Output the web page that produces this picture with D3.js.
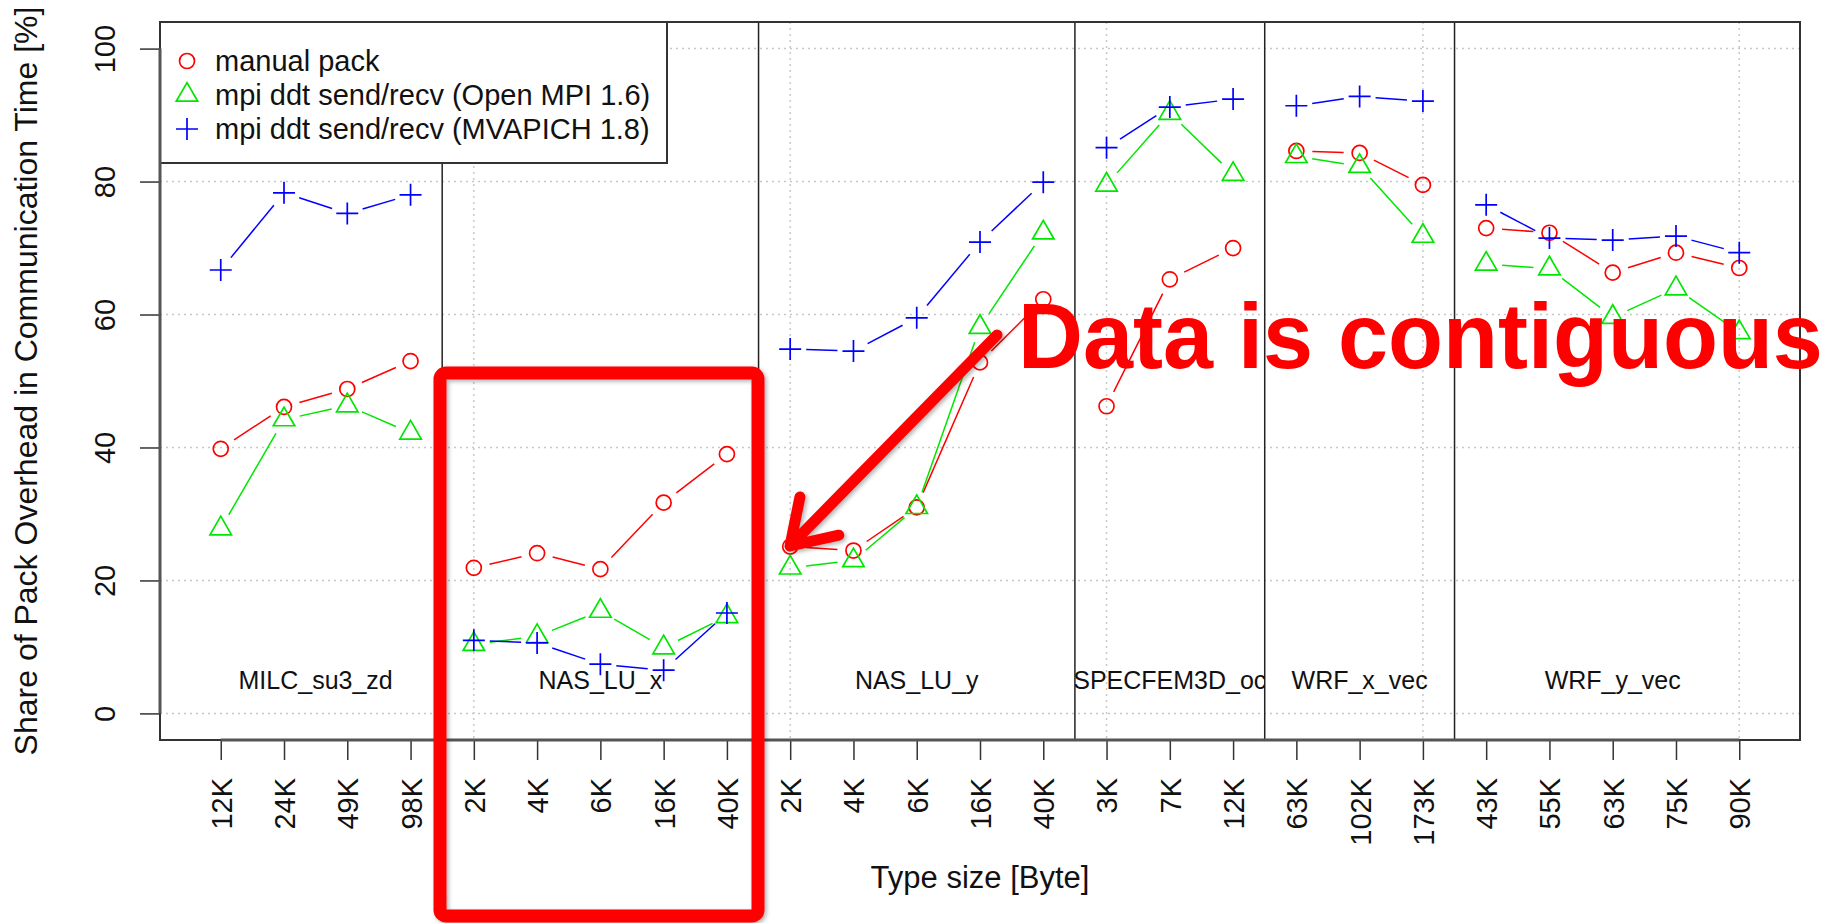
<!DOCTYPE html>
<html>
<head>
<meta charset="utf-8">
<script src="https://cdn.jsdelivr.net/npm/d3@7"></script>
<style>
  body { margin: 0; background: #fff; }
  text { font-family: "Liberation Sans", Arial, Helvetica, sans-serif; }
</style>
</head>
<body>
<script>
// x categories (type sizes), grouped by benchmark
const categories = ["12K", "24K", "49K", "98K",
  "2K", "4K", "6K", "16K", "40K",
  "2K", "4K", "6K", "16K", "40K",
  "3K", "7K", "12K",
  "63K", "102K", "173K",
  "43K", "55K", "63K", "75K", "90K"];
const groupNames = ["MILC_su3_zd", "NAS_LU_x", "NAS_LU_y", "SPECFEM3D_oc", "WRF_x_vec", "WRF_y_vec"];
const groupSizes = [4, 5, 5, 3, 3, 5];

// share of pack overhead [%]
const manualPack = [39.8, 46.1, 48.8, 53.0,
  21.9, 24.1, 21.7, 31.7, 39.0,
  25.1, 24.5, 31.0, 52.8, 62.3,
  46.2, 65.3, 70.0,
  84.6, 84.3, 79.5,
  73.0, 72.3, 66.3, 69.3, 67.0];
const openMpi16 = [27.8, 44.2, 46.3, 42.2,
  10.4, 11.6, 15.4, 9.9, 14.6,
  21.9, 23.0, 31.0, 58.1, 72.3,
  79.5, 90.3, 81.1,
  83.8, 82.3, 71.8,
  67.6, 66.9, 59.6, 63.9, 57.3];
const mvapich18 = [66.7, 78.3, 75.2, 78.0,
  11.0, 10.6, 7.4, 6.5, 15.1,
  54.8, 54.5, 59.5, 70.9, 79.9,
  85.1, 91.2, 92.4,
  91.4, 92.8, 92.1,
  76.5, 71.5, 71.2, 71.8, 69.3];

const yTicks = [0, 20, 40, 60, 80, 100];
const gridX = [5, 10, 15, 20, 25];

const series = [
  { label: "manual pack", values: manualPack, color: "#ff0000", shape: "circle" },
  { label: "mpi ddt send/recv (Open MPI 1.6)", values: openMpi16, color: "#00e600", shape: "triangle" },
  { label: "mpi ddt send/recv (MVAPICH 1.8)", values: mvapich18, color: "#0000ff", shape: "plus" }
];

const width = 1839, height = 923;
const plot = { left: 160, right: 1800, top: 22, bottom: 740 };

const svg = d3.select("body").append("svg")
  .attr("width", width)
  .attr("height", height);

// R style: 4% padding on each side of the data range
const x = d3.scaleLinear().domain([0.04, categories.length + 0.96]).range([plot.left, plot.right]);
const y = d3.scaleLinear().domain([-4, 104]).range([plot.bottom, plot.top]);

// group start positions (1-based)
let starts = [];
let acc = 1;
groupSizes.forEach(n => { starts.push(acc); acc += n; });

// dotted grid
const grid = svg.append("g").attr("stroke", "#c8c8c8").attr("stroke-width", 1.5).attr("stroke-dasharray", "2,4");
grid.selectAll(".hg").data(yTicks).enter().append("line")
  .attr("x1", plot.left).attr("x2", plot.right)
  .attr("y1", d => y(d)).attr("y2", d => y(d));
grid.selectAll(".vg").data(gridX).enter().append("line")
  .attr("x1", d => x(d)).attr("x2", d => x(d))
  .attr("y1", plot.top).attr("y2", plot.bottom);

// group separators
svg.append("g").selectAll("line").data(starts.slice(1)).enter().append("line")
  .attr("x1", d => x(d - 0.5)).attr("x2", d => x(d - 0.5))
  .attr("y1", plot.top).attr("y2", plot.bottom)
  .attr("stroke", "#222").attr("stroke-width", 1.5);

// plot box
svg.append("rect")
  .attr("x", plot.left).attr("y", plot.top)
  .attr("width", plot.right - plot.left).attr("height", plot.bottom - plot.top)
  .attr("fill", "none").attr("stroke", "#333").attr("stroke-width", 2);

// group labels
svg.append("defs").selectAll("clipPath").data(groupNames).enter().append("clipPath")
  .attr("id", (d, i) => "gclip" + i)
  .append("rect")
  .attr("x", (d, i) => x(starts[i] - 0.5))
  .attr("width", (d, i) => x(starts[i] + groupSizes[i] - 0.5) - x(starts[i] - 0.5))
  .attr("y", plot.top).attr("height", plot.bottom - plot.top);

svg.append("g").selectAll("text").data(groupNames).enter().append("text")
  .attr("clip-path", (d, i) => "url(#gclip" + i + ")")
  .attr("x", (d, i) => x(starts[i] + (groupSizes[i] - 1) / 2))
  .attr("y", y(5))
  .attr("dy", "0.36em")
  .attr("text-anchor", "middle")
  .attr("font-size", 25)
  .attr("fill", "#111")
  .text(d => d);

// markers
function marker(g, shape, color) {
  if (shape === "circle") {
    g.append("circle").attr("r", 7.5).attr("fill", "none").attr("stroke", color).attr("stroke-width", 1.7);
  } else if (shape === "triangle") {
    g.append("path").attr("d", d3.symbol(d3.symbolTriangle, 200)())
      .attr("fill", "none").attr("stroke", color).attr("stroke-width", 1.7);
  } else {
    g.append("path").attr("d", "M-11,0H11M0,-11V11")
      .attr("fill", "none").attr("stroke", color).attr("stroke-width", 1.7);
  }
}

// type="b": lines with gaps around points, not joined across groups
const gap = 16;
series.forEach(s => {
  const g = svg.append("g");
  groupSizes.forEach((n, gi) => {
    for (let k = 0; k < n - 1; k++) {
      const i = starts[gi] + k;
      const x1 = x(i), y1 = y(s.values[i - 1]);
      const x2 = x(i + 1), y2 = y(s.values[i]);
      const len = Math.hypot(x2 - x1, y2 - y1);
      if (len <= 2 * gap) continue;
      const ux = (x2 - x1) / len, uy = (y2 - y1) / len;
      g.append("line")
        .attr("x1", x1 + ux * gap).attr("y1", y1 + uy * gap)
        .attr("x2", x2 - ux * gap).attr("y2", y2 - uy * gap)
        .attr("stroke", s.color).attr("stroke-width", 1.5);
    }
  });
  s.values.forEach((v, i) => {
    const m = g.append("g").attr("transform", "translate(" + x(i + 1) + "," + y(v) + ")");
    marker(m, s.shape, s.color);
  });
});

// legend
const legend = svg.append("g");
legend.append("rect")
  .attr("x", plot.left).attr("y", plot.top)
  .attr("width", 507).attr("height", 141)
  .attr("fill", "#fff").attr("stroke", "#333").attr("stroke-width", 2);
series.forEach((s, i) => {
  const ly = 61 + i * 34;
  const m = legend.append("g").attr("transform", "translate(187," + ly + ")");
  marker(m, s.shape, s.color);
  legend.append("text")
    .attr("x", 215).attr("y", ly).attr("dy", "0.36em")
    .attr("font-size", 29).attr("fill", "#111")
    .text(s.label);
});

// x axis
const xAxis = d3.axisBottom(x)
  .tickValues(d3.range(1, categories.length + 1))
  .tickFormat(d => categories[d - 1])
  .tickSize(20);
const gx = svg.append("g").attr("transform", "translate(0," + plot.bottom + ")").call(xAxis);
gx.select(".domain").remove();
gx.selectAll(".tick line").attr("stroke", "#333").attr("stroke-width", 1.5);
gx.selectAll(".tick text")
  .attr("y", 0).attr("x", 0).attr("dy", "0.36em")
  .attr("transform", "translate(0,38) rotate(-90)")
  .attr("text-anchor", "end")
  .attr("font-size", 29).attr("fill", "#111")
  .style("font-family", "Liberation Sans, Arial, sans-serif");
svg.append("line")
  .attr("x1", x(1)).attr("x2", x(categories.length))
  .attr("y1", plot.bottom).attr("y2", plot.bottom)
  .attr("stroke", "#555").attr("stroke-width", 3);

// y axis
const yAxis = d3.axisLeft(y).tickValues(yTicks).tickSize(20);
const gy = svg.append("g").attr("transform", "translate(" + plot.left + ",0)").call(yAxis);
gy.select(".domain").remove();
gy.selectAll(".tick line").attr("stroke", "#333").attr("stroke-width", 1.5);
gy.selectAll(".tick text")
  .attr("x", 0).attr("dy", "0.36em")
  .attr("transform", "translate(-55,0) rotate(-90)")
  .attr("text-anchor", "middle")
  .attr("font-size", 29).attr("fill", "#111")
  .style("font-family", "Liberation Sans, Arial, sans-serif");
svg.append("line")
  .attr("x1", plot.left).attr("x2", plot.left)
  .attr("y1", y(0)).attr("y2", y(100))
  .attr("stroke", "#555").attr("stroke-width", 3);

// axis titles
svg.append("text")
  .attr("x", (plot.left + plot.right) / 2).attr("y", 888)
  .attr("text-anchor", "middle").attr("font-size", 31).attr("fill", "#111")
  .text("Type size [Byte]");
svg.append("text")
  .attr("transform", "translate(37," + (plot.top + plot.bottom) / 2 + ") rotate(-90)")
  .attr("text-anchor", "middle").attr("font-size", 32).attr("fill", "#111")
  .text("Share of Pack Overhead in Communication Time [%]");

// slide annotation
const defs = svg.append("defs");
const f = defs.append("filter").attr("id", "shadow").attr("x", "-10%").attr("y", "-10%").attr("width", "130%").attr("height", "130%");
f.append("feDropShadow").attr("dx", 2).attr("dy", 2).attr("stdDeviation", 2).attr("flood-opacity", 0.3);

svg.append("rect")
  .attr("x", 440).attr("y", 373).attr("width", 318).attr("height", 543).attr("rx", 6)
  .attr("fill", "none").attr("stroke", "#ff0000").attr("stroke-width", 13)
  .attr("filter", "url(#shadow)");

const tail = [997, 335], tip = [790, 546];
const ang = Math.atan2(tail[1] - tip[1], tail[0] - tip[0]);
const barb = 50, spread = 33 * Math.PI / 180;
const b1 = [tip[0] + barb * Math.cos(ang + spread), tip[1] + barb * Math.sin(ang + spread)];
const b2 = [tip[0] + barb * Math.cos(ang - spread), tip[1] + barb * Math.sin(ang - spread)];
svg.append("path")
  .attr("d", "M" + tail + "L" + tip + "M" + b1 + "L" + tip + "L" + b2)
  .attr("fill", "none").attr("stroke", "#ff0000").attr("stroke-width", 11)
  .attr("stroke-linecap", "round").attr("stroke-linejoin", "round")
  .attr("filter", "url(#shadow)");

// bold slide title, a touch taller than the plain font
svg.append("text")
  .attr("transform", "translate(1018,368) scale(1,1.04)")
  .attr("font-size", 90).attr("font-weight", "bold").attr("fill", "#ff0000")
  .text("Data is contiguous");
</script>
</body>
</html>
